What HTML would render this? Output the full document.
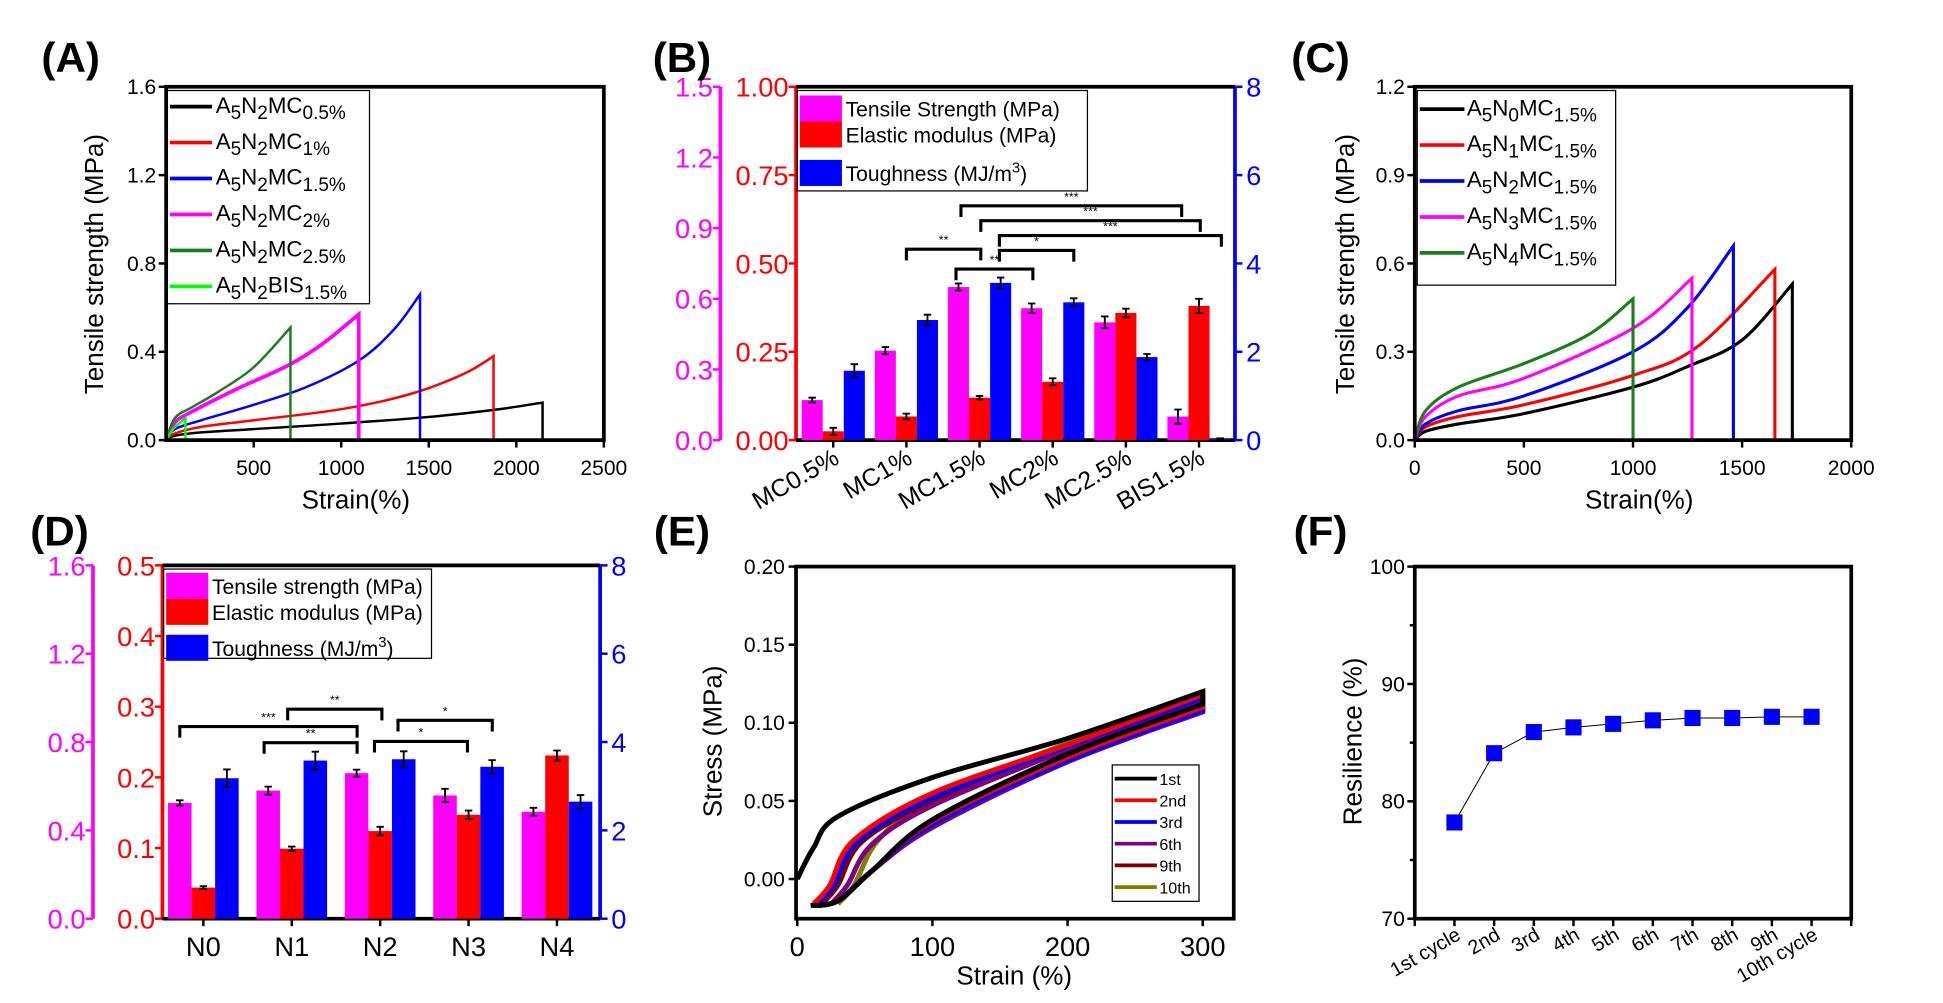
<!DOCTYPE html>
<html><head><meta charset="utf-8"><style>
html,body{margin:0;padding:0;background:#fff;}
svg{display:block;}
text{font-family:"Liberation Sans",Arial,sans-serif;}
</style></head>
<body>
<svg id="fig" width="1943" height="1003" viewBox="0 0 1567 809" preserveAspectRatio="none" xmlns="http://www.w3.org/2000/svg"></svg>
<script>
// ---------- Panel A data ----------
const aNames = ["0.5%","1%","1.5%","2%","2.5%","BIS"];
const aColors = ["#000","#f00","#00f","#f0f","#1a7f1a","#0f0"];
const aCurve0 = [[0,0],[50,0.02],[200,0.035],[500,0.05],[1000,0.075],[1500,0.105],[1900,0.14],[2150,0.17]];
const aCurve1 = [[0,0],[50,0.03],[200,0.06],[500,0.09],[1000,0.14],[1400,0.21],[1700,0.3],[1870,0.38]];
const aCurve2 = [[0,0],[50,0.05],[200,0.09],[500,0.16],[800,0.24],[1100,0.36],[1300,0.5],[1450,0.66]];
const aCurve3 = [[0,0],[50,0.08],[150,0.13],[400,0.23],[700,0.34],[900,0.44],[1100,0.57]];
const aCurve4 = [[0,0],[50,0.1],[150,0.15],[300,0.22],[500,0.33],[710,0.51]];
const aCurve5 = [[0,0],[40,0.05],[110,0.1]];
const aXTicks = [500,1000,1500,2000,2500];
const aYTicks = [0,0.4,0.8,1.2,1.6];
// ---------- Panel B data ----------
const bCats = ["MC0.5%","MC1%","MC1.5%","MC2%","MC2.5%","BIS1.5%"];
const bTensile = [0.17,0.38,0.65,0.56,0.50,0.10];
const bTensileErr = [0.01,0.015,0.015,0.02,0.025,0.03];
const bModulus = [0.025,0.067,0.12,0.165,0.36,0.38];
const bModulusErr = [0.01,0.008,0.005,0.01,0.012,0.02];
const bTough = [1.57,2.72,3.56,3.12,1.88,0.03];
const bToughErr = [0.15,0.12,0.12,0.09,0.07,0.01];
// ---------- Panel C data ----------
const cColors = ["#000","#f00","#00f","#f0f","#1a7f1a"];
const cCurve0 = [[0,0],[50,0.03],[200,0.055],[500,0.09],[1000,0.18],[1250,0.25],[1500,0.34],[1730,0.53]];
const cCurve1 = [[0,0],[50,0.045],[200,0.08],[500,0.12],[1000,0.22],[1300,0.32],[1650,0.58]];
const cCurve2 = [[0,0],[50,0.055],[200,0.1],[500,0.15],[1000,0.3],[1250,0.45],[1460,0.66]];
const cCurve3 = [[0,0],[50,0.08],[200,0.15],[500,0.21],[1000,0.38],[1270,0.55]];
const cCurve4 = [[0,0],[50,0.1],[200,0.18],[500,0.26],[800,0.36],[1000,0.48]];
// ---------- Panel D data ----------
const dCats = ["N0","N1","N2","N3","N4"];
const dTensile = [0.524,0.58,0.659,0.558,0.484];
const dTensileErr = [0.012,0.018,0.016,0.03,0.018];
const dModulus = [0.044,0.099,0.124,0.147,0.231];
const dModulusErr = [0.002,0.003,0.006,0.006,0.007];
const dTough = [3.18,3.58,3.61,3.44,2.65];
const dToughErr = [0.2,0.2,0.18,0.15,0.15];
// ---------- Panel E data ----------
const eNames = ["1st","2nd","3rd","6th","9th","10th"];
const eColors = ["#000","#f00","#00f","#800080","#800000","#808000"];
const eStart = [0,12,15,25,18,30];
const eStartStress = [0,-0.016,-0.016,-0.016,-0.016,-0.016];
const eLoadEarly = [0.02,-0.004,-0.004,-0.004,-0.004,-0.004];
const eLoadEarly2 = [0.04,0.025,0.024,0.022,0.024,0.025];
const eLoad100 = [0.065,0.055,0.052,0.047,0.05,0.052];
const eLoad200 = [0.09,0.086,0.085,0.083,0.085,0.087];
const eUnload200 = [0.08,0.078,0.076,0.075,0.077,0.078];
const eUnload100 = [0.038,0.037,0.035,0.033,0.036,0.037];
const ePeak = [0.12,0.118,0.116,0.115,0.118,0.12];
// ---------- Panel F data ----------
const fCats = ["1st cycle","2nd","3rd","4th","5th","6th","7th","8th","9th","10th cycle"];
const fVals = [78.2,84.1,85.9,86.3,86.6,86.9,87.1,87.1,87.2,87.2];

const NS="http://www.w3.org/2000/svg";
const svg=document.getElementById('fig');
function el(tag,attrs,parent){const e=document.createElementNS(NS,tag);for(const k in attrs)e.setAttribute(k,attrs[k]);(parent||svg).appendChild(e);return e;}
function txt(x,y,s,attrs,parent){const t=el('text',Object.assign({x:x,y:y},attrs||{}),parent);t.textContent=s;return t;}
function scale(d0,d1,p0,p1){return v=>p0+(v-d0)/(d1-d0)*(p1-p0);}
function smooth(pts){let d="M"+pts[0][0]+","+pts[0][1];for(let i=0;i<pts.length-1;i++){const p0=pts[i-1]||pts[i],p1=pts[i],p2=pts[i+1],p3=pts[i+2]||p2;const c1=[p1[0]+(p2[0]-p0[0])/6,p1[1]+(p2[1]-p0[1])/6],c2=[p2[0]-(p3[0]-p1[0])/6,p2[1]-(p3[1]-p1[1])/6];d+=" C"+c1+" "+c2+" "+p2;}return d;}
function box(x0,y0,x1,y1,name){const r=el('rect',{x:x0,y:y0,width:x1-x0,height:y1-y0,fill:'none',stroke:'#000','stroke-width':3});}
function label(x,y,s,name){const t=txt(x,y,s,{'font-size':34,'font-weight':'bold','text-anchor':'middle'});}
function subLabel(g,x,y,parts,size){const t=el('text',{x:x,y:y,'font-size':size},g);let low=false;parts.forEach(p=>{const sub=!!p[1];let dy=0;if(sub&&!low){dy=5;low=true;}else if(!sub&&low){dy=-5;low=false;}
const s=el('tspan',{dy:dy,'font-size':sub?size*0.85:size},t);s.textContent=p[0];});return t;}

// ================= PANEL A =================
(function(){
const g=el('g',{});
const X=scale(0,2500,134,487),Y=scale(0,1.6,355,70);
label(57,58,"(A)","panel-a-label");
aYTicks.forEach(v=>{el('line',{x1:134,x2:128,y1:Y(v),y2:Y(v),stroke:'#000','stroke-width':2},g);const t=txt(126,Y(v)+6,v.toFixed(1),{'font-size':17,'text-anchor':'end'},g);});
aXTicks.forEach(v=>{el('line',{x1:X(v),x2:X(v),y1:355,y2:361,stroke:'#000','stroke-width':2},g);const t=txt(X(v),383,String(v),{'font-size':17,'text-anchor':'middle'},g);});
const curves=[aCurve0,aCurve1,aCurve2,aCurve3,aCurve4,aCurve5];
curves.forEach((c,i)=>{const pts=c.map(p=>[X(p[0]),Y(p[1])]);const last=c[c.length-1];
const p=el('path',{d:smooth(pts)+" L"+X(last[0])+","+Y(0),fill:'none',stroke:aColors[i],'stroke-width':i==3?3:2},g);});
box(134,70,487,355,'a-plot-frame');
const lg=el('g',{},g);
el('rect',{x:135,y:73,width:163,height:172,fill:'#fff',stroke:'#000','stroke-width':1},lg);
const subs=[["MC","0.5%"],["MC","1%"],["MC","1.5%"],["MC","2%"],["MC","2.5%"],["BIS","1.5%"]];
subs.forEach((s,i)=>{const y=86+i*29;el('line',{x1:137,x2:171,y1:y,y2:y,stroke:aColors[i],'stroke-width':3},lg);
subLabel(lg,174,y+5,[["A"],["5",1],["N"],["2",1],[s[0]],[s[1],1]],18);});
const yl=txt(0,0,"Tensile strength (MPa)",{'font-size':21,'text-anchor':'middle',transform:'translate(83,213) rotate(-90)'},g);
const xl=txt(287,410,"Strain(%)",{'font-size':21,'text-anchor':'middle'},g);
})();

// ================= BAR PANEL helper =================
function barPanel(o){
const g=el('g',{});
const L=o.x0,R=o.x1,T=o.y0,B=o.y1;
const Ym=scale(0,o.mMax,B,T),Yr=scale(0,o.rMax,B,T),Yb=scale(0,8,B,T);
const X=i=>o.c0+i*o.step;
el('line',{x1:o.mx,x2:o.mx,y1:T,y2:B,stroke:'#f0f','stroke-width':3},g);
o.mTicks.forEach(v=>{el('line',{x1:o.mx,x2:o.mx-6,y1:Ym(v),y2:Ym(v),stroke:'#f0f','stroke-width':2},g);const t=txt(o.mx-6,Ym(v)+8,v.toFixed(1),{'font-size':22,fill:'#f0f','text-anchor':'end'},g);});
el('line',{x1:L,x2:L,y1:T,y2:B,stroke:'#f00','stroke-width':3},g);
o.rTicks.forEach(v=>{el('line',{x1:L,x2:L-6,y1:Yr(v),y2:Yr(v),stroke:'#f00','stroke-width':2},g);const t=txt(L-6,Yr(v)+8,v.toFixed(o.rDec),{'font-size':22,fill:'#f00','text-anchor':'end'},g);});
el('line',{x1:R,x2:R,y1:T,y2:B,stroke:'#00f','stroke-width':3},g);
[0,2,4,6,8].forEach(v=>{el('line',{x1:R,x2:R+6,y1:Yb(v),y2:Yb(v),stroke:'#00f','stroke-width':2},g);const t=txt(R+9,Yb(v)+8,String(v),{'font-size':22,fill:'#00f'},g);});
el('line',{x1:L,x2:R,y1:T,y2:T,stroke:'#000','stroke-width':3},g);
el('line',{x1:L,x2:R,y1:B,y2:B,stroke:'#000','stroke-width':3},g);
const w=o.bw;
function bars(vals,errs,Y,col,off,nm){vals.forEach((v,i)=>{const cx=X(i)+off*w;const r=el('rect',{x:cx-w/2,y:Y(v),width:w,height:B-Y(v),fill:col},g);
const e1=Y(v+errs[i]),e2=Y(Math.max(0,v-errs[i]));el('path',{d:`M${cx},${e1}V${e2}M${cx-3},${e1}H${cx+3}M${cx-3},${e2}H${cx+3}`,stroke:'#000','stroke-width':1.5,fill:'none'},g);});}
bars(o.m,o.me,Ym,'#f0f',-1,'tensile');bars(o.r,o.re,Yr,'#f00',0,'modulus');bars(o.b,o.be,Yb,'#00f',1,'toughness');
o.cats.forEach((c,i)=>{el('line',{x1:X(i),x2:X(i),y1:B,y2:B+6,stroke:'#000','stroke-width':2},g);
const t=o.rot?txt(X(i)+6,B+18,c,{'font-size':20,'text-anchor':'end',transform:`rotate(-30 ${X(i)+6} ${B+18})`},g):txt(X(i),B+30,c,{'font-size':22,'text-anchor':'middle'},g);});
o.brackets.forEach(b=>{el('path',{d:`M${b[0]},${b[2]+9}V${b[2]}H${b[1]}V${b[2]+9}`,stroke:'#000','stroke-width':2.5,fill:'none'},g);txt((b[0]+b[1])/2,b[2]-4,b[3],{'font-size':10,'text-anchor':'middle'},g);});
const lg=el('g',{},g);
el('rect',{x:L+1,y:T+3,width:o.lw,height:o.lh,fill:'#fff',stroke:'#000','stroke-width':1},lg);
const names=o.legend;const cols=['#f0f','#f00','#00f'];
names.forEach((n,i)=>{const y=T+3+o.ly[i];el('rect',{x:L+3,y:y-10,width:34,height:21,fill:cols[i]},lg);const t=txt(L+40,y+7,n,{'font-size':17},lg);if(i==2){const s=el('tspan',{dy:-7,'font-size':12},t);s.textContent='3';const s2=el('tspan',{dy:7},t);s2.textContent=')';}});
return g;}

barPanel({name:'panel-b',x0:642,x1:996,y0:70,y1:355,mx:581,mMax:1.5,rMax:1.0,rDec:2,mTicks:[0,0.3,0.6,0.9,1.2,1.5],rTicks:[0,0.25,0.5,0.75,1.0],
c0:672,step:59,bw:17,cats:bCats,rot:true,m:bTensile,me:bTensileErr,r:bModulus,re:bModulusErr,b:bTough,be:bToughErr,
brackets:[[775,953,166,"***"],[791,968,178,"***"],[806,985,190,"***"],[731,791,201,"**"],[806,866,202,"*"],[771,833,217,"**"]],
legend:["Tensile Strength (MPa)","Elastic modulus (MPa)","Toughness (MJ/m"],lw:234,lh:81,ly:[14,35,66]});
label(550,58,"(B)","panel-b-label");

barPanel({name:'panel-d',x0:131,x1:484,y0:456,y1:741,mx:75,mMax:1.6,rMax:0.5,rDec:1,mTicks:[0,0.4,0.8,1.2,1.6],rTicks:[0,0.1,0.2,0.3,0.4,0.5],
c0:164,step:71.3,bw:19,cats:dCats,rot:false,m:dTensile,me:dTensileErr,r:dModulus,re:dModulusErr,b:dTough,be:dToughErr,
brackets:[[145,288,586,"***"],[232,308,572,"**"],[213,288,599,"**"],[321,397,581,"*"],[302,377,598,"*"]],
legend:["Tensile strength (MPa)","Elastic modulus (MPa)","Toughness (MJ/m"],lw:216,lh:72,ly:[13,34,63]});
label(48,440,"(D)","panel-d-label");

// ================= PANEL C =================
(function(){
const g=el('g',{});
const X=scale(0,2000,1141,1493),Y=scale(0,1.2,355,70);
label(1065,58,"(C)","panel-c-label");
[0,0.3,0.6,0.9,1.2].forEach(v=>{el('line',{x1:1141,x2:1135,y1:Y(v),y2:Y(v),stroke:'#000','stroke-width':2},g);txt(1133,Y(v)+6,v.toFixed(1),{'font-size':17,'text-anchor':'end'},g);});
[0,500,1000,1500,2000].forEach(v=>{el('line',{x1:X(v),x2:X(v),y1:355,y2:361,stroke:'#000','stroke-width':2},g);txt(X(v),383,String(v),{'font-size':17,'text-anchor':'middle'},g);});
[cCurve0,cCurve1,cCurve2,cCurve3,cCurve4].forEach((c,i)=>{const pts=c.map(p=>[X(p[0]),Y(p[1])]);const last=c[c.length-1];
const p=el('path',{d:smooth(pts)+" L"+X(last[0])+","+Y(0),fill:'none',stroke:cColors[i],'stroke-width':2.5},g);});
box(1141,70,1493,355,'c-plot-frame');
const lg=el('g',{},g);
el('rect',{x:1143,y:73,width:160,height:157,fill:'#fff',stroke:'#000','stroke-width':1},lg);
cColors.forEach((c,i)=>{const y=88+i*29;el('line',{x1:1145,x2:1181,y1:y,y2:y,stroke:c,'stroke-width':3},lg);
subLabel(lg,1183,y+5,[["A"],["5",1],["N"],[String(i),1],["MC"],["1.5%",1]],18);});
txt(0,0,"Tensile strength (MPa)",{'font-size':21,'text-anchor':'middle',transform:'translate(1092,213) rotate(-90)'},g);
txt(1322,410,"Strain(%)",{'font-size':21,'text-anchor':'middle'},g);
})();

// ================= PANEL E =================
(function(){
const g=el('g',{});
const X=scale(0,300,643,970),Y=scale(0,0.2,709,457);
label(550,440,"(E)","panel-e-label");
[0,0.05,0.1,0.15,0.2].forEach(v=>{el('line',{x1:642,x2:636,y1:Y(v),y2:Y(v),stroke:'#000','stroke-width':2},g);txt(633,Y(v)+6,v.toFixed(2),{'font-size':17,'text-anchor':'end'},g);});
[0,100,200,300].forEach(v=>{el('line',{x1:X(v),x2:X(v),y1:741,y2:747,stroke:'#000','stroke-width':2},g);txt(X(v),771,String(v),{'font-size':22,'text-anchor':'middle'},g);});
for(let i=eNames.length-1;i>=0;i--){const s=eStart[i];
const load=[[s,eStartStress[i]],[s+12,eLoadEarly[i]],[s+30,eLoadEarly2[i]],[100,eLoad100[i]],[200,eLoad200[i]],[300,ePeak[i]]];
const unload=[[300,ePeak[i]-0.008],[200,eUnload200[i]],[100,eUnload100[i]],[55,0.005],[30,-0.014],[10,-0.017]];
const p=el('path',{d:smooth(load.map(q=>[X(q[0]),Y(q[1])]))+" "+smooth(unload.map(q=>[X(q[0]),Y(q[1])])).replace('M','L'),fill:'none',stroke:eColors[i],'stroke-width':4},g);
}
box(642,457,995,741,'e-plot-frame');
const lg=el('g',{},g);
el('rect',{x:897,y:617,width:70,height:110,fill:'#fff',stroke:'#000','stroke-width':1},lg);
eNames.forEach((n,i)=>{const y=628+i*17.5;el('line',{x1:899,x2:933,y1:y,y2:y,stroke:eColors[i],'stroke-width':3},lg);txt(935,y+5,n,{'font-size':13},lg);});
txt(0,0,"Stress (MPa)",{'font-size':21,'text-anchor':'middle',transform:'translate(582,598) rotate(-90)'},g);
txt(818,794,"Strain (%)",{'font-size':21,'text-anchor':'middle'},g);
})();

// ================= PANEL F =================
(function(){
const g=el('g',{});
const X=scale(0,11,1141,1493),Y=scale(70,100,741,457);
label(1065,440,"(F)","panel-f-label");
[70,80,90,100].forEach(v=>{el('line',{x1:1141,x2:1135,y1:Y(v),y2:Y(v),stroke:'#000','stroke-width':2},g);txt(1133,Y(v)+6,String(v),{'font-size':17,'text-anchor':'end'},g);});
[75,85,95].forEach(v=>el('line',{x1:1141,x2:1137,y1:Y(v),y2:Y(v),stroke:'#000','stroke-width':2},g));
fCats.forEach((c,i)=>{const x=X(i+1);el('line',{x1:x,x2:x,y1:741,y2:747,stroke:'#000','stroke-width':2},g);
const t=txt(x+6,757,c,{'font-size':16,'text-anchor':'end',transform:`rotate(-30 ${x+6} 757)`},g);});
el('line',{x1:1141,x2:1141,y1:741,y2:747,stroke:'#000','stroke-width':2},g);el('line',{x1:1493,x2:1493,y1:741,y2:747,stroke:'#000','stroke-width':2},g);
el('polyline',{points:fVals.map((v,i)=>X(i+1)+","+Y(v)).join(" "),fill:'none',stroke:'#000','stroke-width':0.8},g);
fVals.forEach((v,i)=>{const r=el('rect',{x:X(i+1)-6.5,y:Y(v)-6.5,width:13,height:13,fill:'#00f'},g);});
box(1141,457,1493,741,'f-plot-frame');
txt(0,0,"Resilience (%)",{'font-size':21,'text-anchor':'middle',transform:'translate(1098,598) rotate(-90)'},g);
})();
</script>
</body></html>
